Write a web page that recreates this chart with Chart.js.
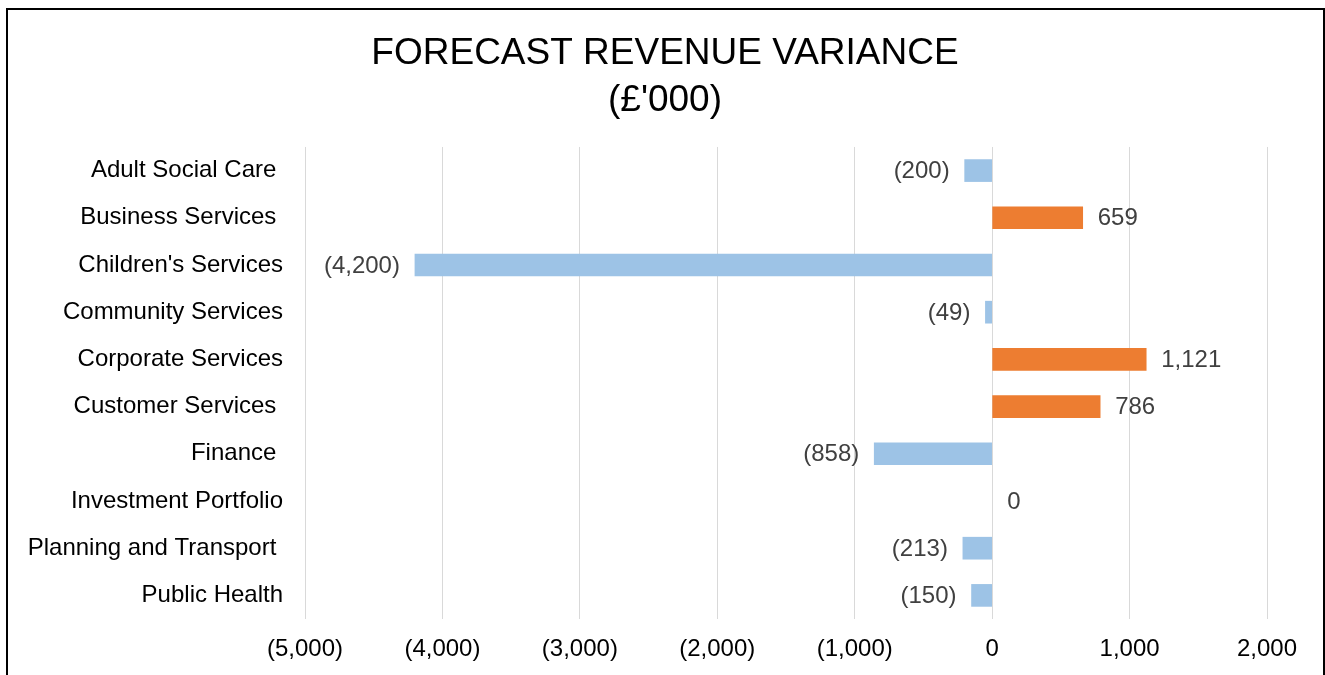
<!DOCTYPE html>
<html>
<head>
<meta charset="utf-8">
<title>Forecast Revenue Variance</title>
<script src="https://cdn.jsdelivr.net/npm/chart.js@4"></script>
<style>
  html, body { margin: 0; padding: 0; background: #fff; overflow: hidden; }
  #wrap { position: relative; width: 1325px; height: 675px; }
  #frame {
    position: absolute; left: 6px; top: 8px; width: 1319px; height: 720px;
    box-sizing: border-box; border: 2px solid #000; pointer-events: none;
  }
  canvas { position: absolute; left: 0; top: 0; }
</style>
</head>
<body>
<div id="wrap">
  <canvas id="myChart" width="1325" height="675"></canvas>
  <div id="frame"></div>
</div>
<script>
// Datos del gráfico
const categories = [
  'Adult Social Care ',
  'Business Services ',
  "Children's Services",
  'Community Services',
  'Corporate Services',
  'Customer Services ',
  'Finance ',
  'Investment Portfolio',
  'Planning and Transport ',
  'Public Health',
];
const variance = [-200, 659, -4200, -49, 1121, 786, -858, 0, -213, -150];
const titleLines = ['FORECAST REVENUE VARIANCE', "(£'000)"];
const xTicks = [-5000, -4000, -3000, -2000, -1000, 0, 1000, 2000];

const FONT = "'Liberation Sans', Arial, sans-serif";
const NEG_COLOR = '#9DC3E6';
const POS_COLOR = '#ED7D31';

// Formato contable: negativos entre paréntesis
const fmt = (v) => {
  const s = Math.abs(v).toLocaleString('en-GB');
  return v < 0 ? '(' + s + ')' : s;
};

// Color por barra (la barra en cero no se ve)
const barColor = (v) => {
  if (v === 0) return 'rgba(0,0,0,0)';
  return v < 0 ? NEG_COLOR : POS_COLOR;
};

// Centra el título sobre todo el marco, no sólo sobre el área del gráfico
const centerTitle = {
  id: 'centerTitle',
  afterLayout(chart) {
    if (chart.titleBlock) {
      chart.titleBlock.left = 6;
      chart.titleBlock.right = 1324;
    }
  },
};

// Etiquetas de datos dibujadas al final de cada barra
const barLabels = {
  id: 'barLabels',
  afterDatasetsDraw(chart) {
    const ctx = chart.ctx;
    const meta = chart.getDatasetMeta(0);
    ctx.save();
    ctx.font = '24px ' + FONT;
    ctx.fillStyle = '#404040';
    ctx.textBaseline = 'middle';
    meta.data.forEach((bar, i) => {
      const v = variance[i];
      if (v < 0) {
        ctx.textAlign = 'right';
        ctx.fillText(fmt(v), bar.x - 15, bar.y + 1);
      } else {
        ctx.textAlign = 'left';
        ctx.fillText(fmt(v), bar.x + 15, bar.y + 1);
      }
    });
    ctx.restore();
  },
};

const ctx = document.getElementById('myChart').getContext('2d');
new Chart(ctx, {
  type: 'bar',
  data: {
    labels: categories,
    datasets: [
      {
        data: variance,
        backgroundColor: variance.map(barColor),
        borderWidth: 0,
        barThickness: 22,
      },
    ],
  },
  options: {
    indexAxis: 'y',
    responsive: false,
    animation: false,
    devicePixelRatio: 1,
    layout: { padding: { left: 10, right: 58, top: 0, bottom: 0 } },
    plugins: {
      legend: { display: false },
      tooltip: { enabled: false },
      title: {
        display: true,
        text: titleLines,
        color: '#000',
        font: { family: FONT, size: 37, weight: 'normal', lineHeight: 1.27 },
        padding: { top: 30, bottom: 23 },
      },
    },
    scales: {
      x: {
        min: -5000,
        max: 2000,
        afterBuildTicks: (scale) => {
          scale.ticks = xTicks.map((v) => ({ value: v }));
        },
        afterFit: (scale) => {
          scale.height = 56;
        },
        grid: { color: '#D9D9D9', lineWidth: 1, drawTicks: false },
        border: { display: false },
        ticks: {
          autoSkip: false,
          maxRotation: 0,
          padding: 16,
          color: '#000',
          font: { family: FONT, size: 24 },
          callback: (v) => fmt(v),
        },
      },
      y: {
        afterFit: (scale) => {
          scale.width = 295;
        },
        grid: { display: false, drawTicks: false },
        border: { display: false },
        ticks: {
          autoSkip: false,
          padding: 22,
          color: '#000',
          font: { family: FONT, size: 24 },
        },
      },
    },
  },
  plugins: [centerTitle, barLabels],
});
</script>
</body>
</html>
